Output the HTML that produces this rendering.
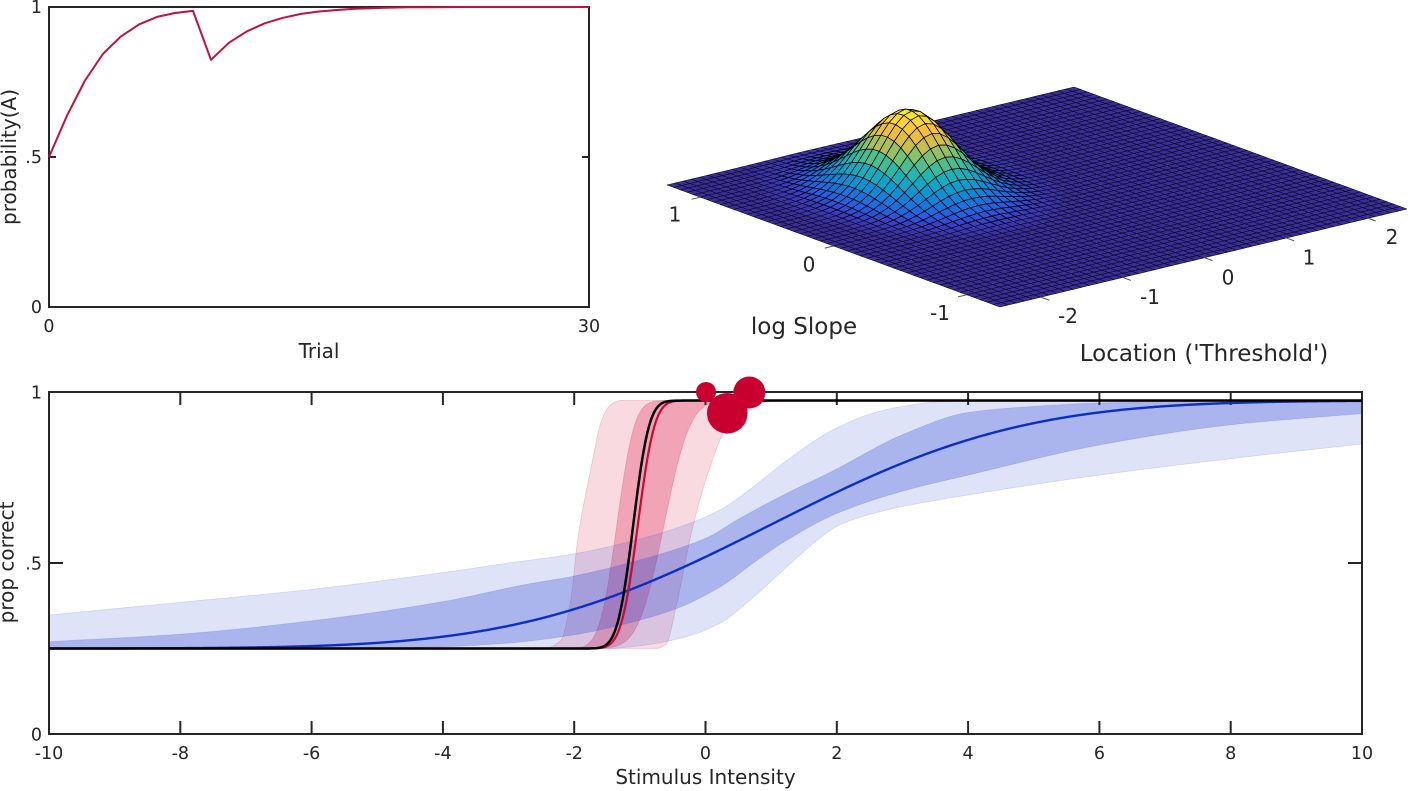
<!DOCTYPE html>
<html><head><meta charset="utf-8">
<style>
html,body{margin:0;padding:0;background:#fff;}
svg{display:block;}
text{font-family:"DejaVu Sans","Liberation Sans",sans-serif;fill:#262626;font-size:17.5px;}
.lab{font-size:20px;}
.lab3{font-size:23px;}
.t3{font-size:20px;}
</style></head><body>
<svg id="s" width="1410" height="791" viewBox="0 0 1410 791" xmlns="http://www.w3.org/2000/svg">
<defs>
<clipPath id="cb"><rect x="49" y="392" width="1313" height="342"/></clipPath>
</defs>
<rect x="0" y="0" width="1410" height="791" fill="#fff"/>

<!-- 3D surface -->
<g id="surf"></g>
<g stroke="#555" stroke-width="1">
<line x1="700.3" y1="197.2" x2="691.6" y2="199.3"/>
<line x1="833.5" y1="246" x2="824.8" y2="248.1"/>
<line x1="966.7" y1="294.8" x2="958" y2="296.9"/>
<line x1="1040.8" y1="297.1" x2="1049.3" y2="300.2"/>
<line x1="1122.4" y1="277.3" x2="1130.9" y2="280.4"/>
<line x1="1204" y1="257.5" x2="1212.5" y2="260.6"/>
<line x1="1285.6" y1="237.7" x2="1294.1" y2="240.8"/>
<line x1="1367.2" y1="217.9" x2="1375.7" y2="221"/>
</g>
<text class="t3" x="675" y="221.5" text-anchor="middle">1</text>
<text class="t3" x="809" y="271.5" text-anchor="middle">0</text>
<text class="t3" x="940" y="320" text-anchor="middle">-1</text>
<text class="t3" x="1068" y="323" text-anchor="middle">-2</text>
<text class="t3" x="1150" y="304" text-anchor="middle">-1</text>
<text class="t3" x="1228" y="284.5" text-anchor="middle">0</text>
<text class="t3" x="1309" y="264.5" text-anchor="middle">1</text>
<text class="t3" x="1392" y="244" text-anchor="middle">2</text>
<text class="lab3" x="804" y="334" text-anchor="middle">log Slope</text>
<text class="lab3" x="1204" y="361" text-anchor="middle">Location ('Threshold')</text>

<!-- Top-left plot -->
<rect x="49" y="7" width="540" height="300" fill="none" stroke="#262626" stroke-width="2"/>
<line x1="49" y1="157" x2="56" y2="157" stroke="#262626" stroke-width="2"/>
<line x1="582" y1="157" x2="589" y2="157" stroke="#262626" stroke-width="2"/>
<polyline fill="none" stroke="#c2113f" stroke-width="2" stroke-linejoin="round" points="49,157 67,115.6 85,80.5 103,53.8 121,36.4 139,24.4 157,16.9 175,13 193,10.9 211,59.8 229,42.7 247,31.3 265,23.2 283,17.8 301,13.9 319,11.5 337,10 355,8.8 373,8.2 391,7.6 409,7.3 427,7.2 445,7.1 463,7 589,7"/>
<text x="42" y="13" text-anchor="end">1</text>
<text x="42" y="163" text-anchor="end">.5</text>
<text x="42" y="313" text-anchor="end">0</text>
<text x="49" y="332" text-anchor="middle">0</text>
<text x="589" y="332" text-anchor="middle">30</text>
<text class="lab" x="319" y="358" text-anchor="middle">Trial</text>
<text class="lab" transform="translate(16,157) rotate(-90)" text-anchor="middle">probability(A)</text>

<!-- Bottom plot -->
<g id="bands" clip-path="url(#cb)"></g>
<rect x="49" y="392" width="1313" height="342" fill="none" stroke="#262626" stroke-width="2"/>
<g stroke="#262626" stroke-width="2">
<line x1="180.3" y1="734" x2="180.3" y2="721"/><line x1="180.3" y1="392" x2="180.3" y2="405"/>
<line x1="311.6" y1="734" x2="311.6" y2="721"/><line x1="311.6" y1="392" x2="311.6" y2="405"/>
<line x1="442.9" y1="734" x2="442.9" y2="721"/><line x1="442.9" y1="392" x2="442.9" y2="405"/>
<line x1="574.2" y1="734" x2="574.2" y2="721"/><line x1="574.2" y1="392" x2="574.2" y2="405"/>
<line x1="705.5" y1="734" x2="705.5" y2="721"/><line x1="705.5" y1="392" x2="705.5" y2="405"/>
<line x1="836.8" y1="734" x2="836.8" y2="721"/><line x1="836.8" y1="392" x2="836.8" y2="405"/>
<line x1="968.1" y1="734" x2="968.1" y2="721"/><line x1="968.1" y1="392" x2="968.1" y2="405"/>
<line x1="1099.4" y1="734" x2="1099.4" y2="721"/><line x1="1099.4" y1="392" x2="1099.4" y2="405"/>
<line x1="1230.7" y1="734" x2="1230.7" y2="721"/><line x1="1230.7" y1="392" x2="1230.7" y2="405"/>
<line x1="49" y1="563" x2="63" y2="563"/><line x1="1348" y1="563" x2="1362" y2="563"/>
</g>
<g id="toplines" clip-path="url(#cb)"></g>
<g fill="#c9002f">
<circle cx="706" cy="392" r="10"/>
<circle cx="727.3" cy="413.3" r="20.3"/>
<circle cx="749.3" cy="392.5" r="16"/>
</g>
<text x="42" y="398.5" text-anchor="end">1</text>
<text x="42" y="569.5" text-anchor="end">.5</text>
<text x="42" y="740.5" text-anchor="end">0</text>
<text x="49" y="759" text-anchor="middle">-10</text>
<text x="180.3" y="759" text-anchor="middle">-8</text>
<text x="311.6" y="759" text-anchor="middle">-6</text>
<text x="442.9" y="759" text-anchor="middle">-4</text>
<text x="574.2" y="759" text-anchor="middle">-2</text>
<text x="705.5" y="759" text-anchor="middle">0</text>
<text x="836.8" y="759" text-anchor="middle">2</text>
<text x="968.1" y="759" text-anchor="middle">4</text>
<text x="1099.4" y="759" text-anchor="middle">6</text>
<text x="1230.7" y="759" text-anchor="middle">8</text>
<text x="1362" y="759" text-anchor="middle">10</text>
<text class="lab" x="705.5" y="784" text-anchor="middle">Stimulus Intensity</text>
<text class="lab" transform="translate(13.6,562.5) rotate(-90)" text-anchor="middle">prop correct</text>
</svg>
<script>
(function(){
var NS="http://www.w3.org/2000/svg";
function el(parent,tag,attrs){var e=document.createElementNS(NS,tag);for(var k in attrs)e.setAttribute(k,attrs[k]);parent.appendChild(e);return e;}

/* ---------- 3D surface ---------- */
var surf=document.getElementById('surf');
var N=50,L0=[667,185],E1=[333,122],E2=[407,-98],HM=80;
function H(u,v){var a=(u-0.314)/0.1,b=(v-0.34)/0.078;return HM*Math.exp(-0.5*(a*a+b*b));}
function P(u,v){var h=H(u,v);return [L0[0]+E1[0]*u+E2[0]*v,L0[1]+E1[1]*u+E2[1]*v-h];}
var stops=[[0,58,46,155],[0.06,60,62,200],[0.13,35,95,228],[0.25,18,126,222],[0.37,8,160,210],[0.5,35,183,175],[0.62,100,193,125],[0.74,195,190,80],[0.86,248,190,60],[1,249,240,30]];
function cmap(t){if(t<=0)return 'rgb(58,46,155)';if(t>=1)t=1;
 for(var i=0;i<stops.length-1;i++){var a=stops[i],b=stops[i+1];if(t<=b[0]){var f=(t-a[0])/(b[0]-a[0]);
 return 'rgb('+Math.round(a[1]+f*(b[1]-a[1]))+','+Math.round(a[2]+f*(b[2]-a[2]))+','+Math.round(a[3]+f*(b[3]-a[3]))+')';}}
 return 'rgb(249,240,30)';}
var cells=[];
for(var i=0;i<N;i++){for(var j=0;j<N;j++){
 var u0=i/N,u1=(i+1)/N,v0=j/N,v1=(j+1)/N;
 var hm=(H(u0,v0)+H(u1,v0)+H(u1,v1)+H(u0,v1))/4/HM;
 var d=122*(u0+u1)/2-98*(v0+v1)/2;
 cells.push([d,u0,u1,v0,v1,hm]);}}
cells.sort(function(a,b){return a[0]-b[0];});
var frag=document.createDocumentFragment();
for(var k=0;k<cells.length;k++){var c=cells[k];
 var p1=P(c[1],c[3]),p2=P(c[2],c[3]),p3=P(c[2],c[4]),p4=P(c[1],c[4]);
 var pts=p1[0].toFixed(1)+','+p1[1].toFixed(1)+' '+p2[0].toFixed(1)+','+p2[1].toFixed(1)+' '+p3[0].toFixed(1)+','+p3[1].toFixed(1)+' '+p4[0].toFixed(1)+','+p4[1].toFixed(1);
 var t=c[5]<0.004?0:Math.pow(c[5],0.8);
 var e=document.createElementNS(NS,'polygon');
 e.setAttribute('points',pts);e.setAttribute('fill',cmap(t));
 e.setAttribute('stroke','#000');e.setAttribute('stroke-width',c[5]<0.02?'0.5':'0.75');e.setAttribute('stroke-linejoin','round');
 frag.appendChild(e);}
surf.appendChild(frag);

/* ---------- bottom plot ---------- */
function erf(x){var s=x<0?-1:1;x=Math.abs(x);var t=1/(1+0.3275911*x);
 var y=1-(((((1.061405429*t-1.453152027)*t)+1.421413741)*t-0.284496736)*t+0.254829592)*t*Math.exp(-x*x);return s*y;}
function Phi(z){return 0.5*(1+erf(z/Math.SQRT2));}
function pf(mu,s){return function(x){return 0.25+0.725*Phi((x-mu)/s);};}
function X(x){return 705.5+65.65*x;}
function Y(p){return 734-342*p;}
function interp(pts){var n=pts.length,m=[];
 for(var i=0;i<n;i++){
  if(i==0)m.push((pts[1][1]-pts[0][1])/(pts[1][0]-pts[0][0]));
  else if(i==n-1)m.push((pts[n-1][1]-pts[n-2][1])/(pts[n-1][0]-pts[n-2][0]));
  else{var d0=(pts[i][1]-pts[i-1][1])/(pts[i][0]-pts[i-1][0]),d1=(pts[i+1][1]-pts[i][1])/(pts[i+1][0]-pts[i][0]);
   m.push(d0*d1<=0?0:2/(1/d0+1/d1));}}
 return function(x){var i=0;while(i<n-2&&x>pts[i+1][0])i++;
  var x0=pts[i][0],x1=pts[i+1][0],h=x1-x0,t=(x-x0)/h;if(t<0)t=0;if(t>1)t=1;
  var t2=t*t,t3=t2*t;
  return (2*t3-3*t2+1)*pts[i][1]+(t3-2*t2+t)*h*m[i]+(-2*t3+3*t2)*pts[i+1][1]+(t3-t2)*h*m[i+1];};}
function sample(f){var a=[];for(var i=0;i<=1000;i++){var x=-10+20*i/1000;a.push([X(x),Y(f(x))]);}return a;}
function pathLine(a){var s='M'+a[0][0].toFixed(2)+' '+a[0][1].toFixed(2);for(var i=1;i<a.length;i++)s+='L'+a[i][0].toFixed(2)+' '+a[i][1].toFixed(2);return s;}
function band(fu,fl){var up=sample(fu),lo=sample(fl).reverse();return pathLine(up.concat(lo))+'Z';}

var bands=document.getElementById('bands');
// pink
var pOU=interp([[-10,0.25],[-2.45,0.25],[-2.2,0.275],[-2.06,0.383],[-1.94,0.578],[-1.75,0.772],[-1.58,0.918],[-1.45,0.962],[-1.3,0.975],[10,0.975]]);
var pOL=interp([[-10,0.25],[-0.75,0.25],[-0.6,0.262],[-0.45,0.37],[-0.2,0.6],[0.05,0.77],[0.3,0.89],[0.55,0.945],[0.85,0.968],[1.25,0.975],[10,0.975]]);
el(bands,'path',{d:band(pOU,pOL),fill:'rgb(215,5,55)','fill-opacity':0.15,stroke:'rgb(215,5,55)','stroke-opacity':0.18,'stroke-width':0.8});
el(bands,'path',{d:band(pf(-1.35,0.21),pf(-0.63,0.31)),fill:'rgb(215,5,55)','fill-opacity':0.25,stroke:'rgb(215,5,55)','stroke-opacity':0.2,'stroke-width':0.8});
// blue
var bOU=interp([[-10,0.348],[-8,0.385],[-6,0.423],[-4,0.472],[-3,0.5],[-2,0.527],[-1,0.57],[-0.3,0.612],[0.22,0.655],[0.73,0.723],[1.24,0.8],[1.9,0.885],[2.5,0.935],[3,0.958],[3.6,0.972],[4.5,0.975],[10,0.975]]);
var bOL=interp([[-10,0.25],[-1.5,0.25],[-1,0.258],[-0.3,0.284],[0.22,0.324],[0.73,0.4],[1.24,0.489],[1.6,0.55],[2,0.607],[2.5,0.642],[3,0.665],[4,0.699],[6,0.757],[8,0.805],[10,0.848]]);
var bIU=interp([[-10,0.27],[-8,0.292],[-6,0.331],[-4,0.387],[-2.8,0.435],[-2,0.462],[-1,0.509],[0,0.572],[0.5,0.628],[1.25,0.705],[1.9,0.765],[3,0.875],[4,0.94],[5,0.958],[6,0.968],[8,0.975],[10,0.975]]);
var bIL=interp([[-10,0.25],[-5,0.251],[-4,0.255],[-3,0.266],[-2,0.29],[-1,0.333],[-0.4,0.37],[0.22,0.43],[0.8,0.51],[1.24,0.567],[2,0.645],[3,0.71],[4,0.757],[6,0.845],[8,0.904],[10,0.937]]);
el(bands,'path',{d:band(bOU,bOL),fill:'rgb(40,70,210)','fill-opacity':0.15,stroke:'rgb(40,70,210)','stroke-opacity':0.15,'stroke-width':0.8});
el(bands,'path',{d:band(bIU,bIL),fill:'rgb(40,70,210)','fill-opacity':0.29,stroke:'rgb(40,70,210)','stroke-opacity':0.18,'stroke-width':0.8});

var lines=document.getElementById('toplines');
el(lines,'path',{d:pathLine(sample(pf(1.0,3.0))),fill:'none',stroke:'#0b2fc4','stroke-width':2.4});
el(lines,'path',{d:pathLine(sample(pf(-1.03,0.2))),fill:'none',stroke:'#c40a36','stroke-width':2.2});
el(lines,'path',{d:pathLine(sample(pf(-1.1,0.19))),fill:'none',stroke:'#000','stroke-width':2.5});
})();
</script>
</body></html>
